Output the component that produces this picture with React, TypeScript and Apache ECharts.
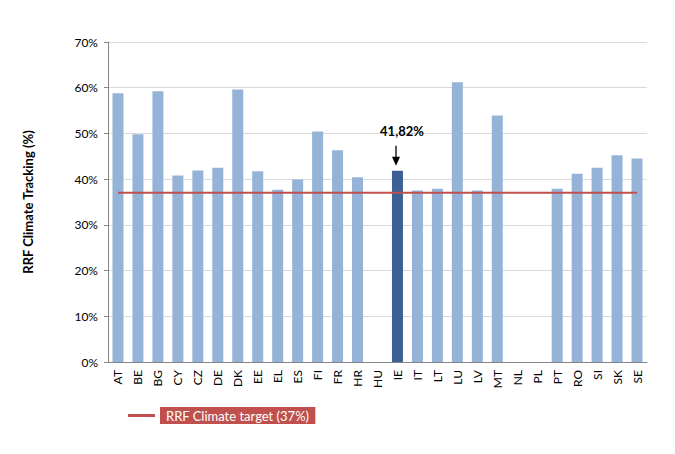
import React, { useEffect, useRef } from "react";
import * as echarts from "echarts";

const categories = ["AT","BE","BG","CY","CZ","DE","DK","EE","EL","ES","FI","FR","HR","HU","IE","IT","LT","LU","LV","MT","NL","PL","PT","RO","SI","SK","SE"];
const trackingValues = [58.8,49.8,59.2,40.8,41.9,42.5,59.6,41.7,37.7,39.9,50.4,46.3,40.4,0,41.82,37.5,37.9,61.2,37.5,53.9,0,0,37.9,41.2,42.5,45.2,44.5];
const targetValue = 37;
const highlightCountry = "IE";
const highlightLabel = "41,82%";
const yTicks = [0, 10, 20, 30, 40, 50, 60, 70];

const FONT = "Lato, 'Open Sans', sans-serif";

export default function App() {
  const ref = useRef<HTMLDivElement>(null);
  useEffect(() => {
    if (!ref.current) return;
    const chart = echarts.init(ref.current, null, { renderer: "svg" });
    const hiIdx = categories.indexOf(highlightCountry);
    chart.setOption({
      animation: false,
      backgroundColor: "#ffffff",
      grid: { left: 108, right: 28, top: 42, bottom: 92 },
      legend: {
        left: 123,
        top: 402,
        itemWidth: 27,
        itemHeight: 3,
        itemGap: 10,
        data: [{ name: "RRF Climate target (37%)", icon: "rect" }],
        textStyle: {
          color: "#ffffff",
          fontFamily: FONT,
          fontSize: 13,
          backgroundColor: "#C0504D",
          padding: [2, 6, 2, 6],
        },
      },
      xAxis: {
        type: "category",
        data: categories,
        axisLine: { lineStyle: { color: "#868686" } },
        axisTick: { show: false },
        axisLabel: { rotate: 90, interval: 0, color: "#000", fontFamily: FONT, fontSize: 12, margin: 8 },
      },
      yAxis: {
        type: "value",
        min: yTicks[0],
        max: yTicks[yTicks.length - 1],
        interval: 10,
        name: "RRF Climate Tracking (%)",
        nameLocation: "middle",
        nameGap: 74,
        nameTextStyle: { fontFamily: FONT, fontWeight: "bold", fontSize: 13, color: "#000" },
        axisLine: { show: true, lineStyle: { color: "#868686" } },
        axisTick: { show: true, length: 4, lineStyle: { color: "#868686" } },
        axisLabel: { formatter: "{value}%", color: "#000", fontFamily: FONT, fontSize: 12, margin: 10 },
        splitLine: { lineStyle: { color: "#d9d9d9" } },
      },
      series: [
        {
          type: "bar",
          name: "Tracking",
          barWidth: 11,
          data: trackingValues.map((v, i) => ({
            value: v,
            itemStyle: { color: i === hiIdx ? "#3B6195" : "#95B3D7" },
          })),
        },
        {
          type: "line",
          name: "RRF Climate target (37%)",
          data: categories.map(() => targetValue),
          symbol: "none",
          lineStyle: { color: "#C0504D", width: 2 },
          itemStyle: { color: "#C0504D" },
        },
      ],
    });
    const pt = chart.convertToPixel({ xAxisIndex: 0, yAxisIndex: 0 }, [highlightCountry, trackingValues[hiIdx]]) as number[];
    const x = Math.round(pt[0]) - 1;
    const top = pt[1];
    chart.setOption({
      graphic: [
        { type: "line", shape: { x1: x, y1: top - 25, x2: x, y2: top - 12 }, style: { stroke: "#000", lineWidth: 1.3 } },
        { type: "polygon", shape: { points: [[x - 4, top - 14], [x + 4, top - 14], [x, top - 5]] }, style: { fill: "#000" } },
        {
          type: "text",
          x: x + 6,
          y: top - 40,
          style: { text: highlightLabel, fontFamily: FONT, fontWeight: "bold", fontSize: 13, fill: "#000", align: "center", verticalAlign: "middle" },
        },
      ],
    });
    return () => chart.dispose();
  }, []);
  return (
    <div
      ref={ref}
      style={{ position: "absolute", left: 0, top: 0, width: 675, height: 454, outline: "1px solid #d9d9d9", outlineOffset: -1 }}
    />
  );
}
